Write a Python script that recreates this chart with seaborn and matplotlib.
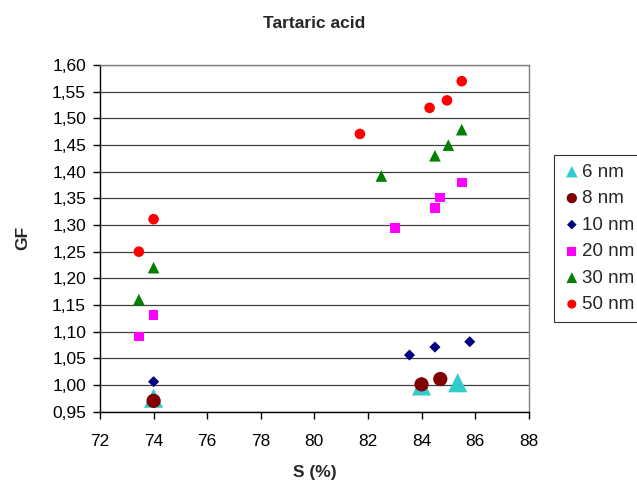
"""
plot.py
-------
Tartaric acid: GF vs S (%) for six particle sizes.
Output: out.png (637 x 483)
"""

import matplotlib
matplotlib.use("Agg")
import matplotlib.pyplot as plt
from matplotlib.ticker import FuncFormatter
import pandas as pd
import seaborn as sns

# ── Data ─────────────────────────────────────────────────────────────────────
s_6nm = [74.0, 84.0, 85.35]
gf_6nm = [0.975, 0.998, 1.004]

s_8nm = [74.0, 84.0, 84.7]
gf_8nm = [0.970, 1.001, 1.011]

s_10nm = [74.0, 83.55, 84.5, 85.8]
gf_10nm = [1.006, 1.056, 1.071, 1.081]

s_20nm = [73.45, 74.0, 83.0, 84.5, 84.7, 85.5]
gf_20nm = [1.091, 1.131, 1.295, 1.332, 1.352, 1.380]

s_30nm = [73.45, 74.0, 82.5, 84.5, 85.0, 85.5]
gf_30nm = [1.160, 1.220, 1.392, 1.430, 1.450, 1.479]

s_50nm = [73.45, 74.0, 81.7, 84.3, 84.95, 85.5]
gf_50nm = [1.250, 1.311, 1.471, 1.520, 1.534, 1.570]

series = ["6 nm", "8 nm", "10 nm", "20 nm", "30 nm", "50 nm"]
s_values = [s_6nm, s_8nm, s_10nm, s_20nm, s_30nm, s_50nm]
gf_values = [gf_6nm, gf_8nm, gf_10nm, gf_20nm, gf_30nm, gf_50nm]

# ── Styles ───────────────────────────────────────────────────────────────────
COLORS = {"6 nm": "#33CCCC", "8 nm": "#800000", "10 nm": "#000080",
          "20 nm": "#FF00FF", "30 nm": "#008000", "50 nm": "#FF0000"}
MARKERS = {"6 nm": "^", "8 nm": "o", "10 nm": "D",
           "20 nm": "s", "30 nm": "^", "50 nm": "o"}
SIZES = {"6 nm": 190, "8 nm": 105, "10 nm": 32,
         "20 nm": 48, "30 nm": 70, "50 nm": 58}
LEGEND_SIZES = {"6 nm": 70, "8 nm": 55, "10 nm": 24,
                "20 nm": 42, "30 nm": 60, "50 nm": 42}

sns.set_theme(style="white")
plt.rcParams["font.family"] = ["Liberation Sans", "DejaVu Sans"]

df = pd.concat(
    [pd.DataFrame({"S": s, "GF": g, "size": name})
     for name, s, g in zip(series, s_values, gf_values)],
    ignore_index=True,
)

fig = plt.figure(figsize=(6.37, 4.83), dpi=100)
ax = fig.add_axes([0.157, 0.148, 0.673, 0.717])

for name in series:
    sub = df[df["size"] == name]
    sns.scatterplot(data=sub, x="S", y="GF", ax=ax,
                    color=COLORS[name], marker=MARKERS[name],
                    s=SIZES[name], edgecolor="none", linewidth=0,
                    label=name, zorder=3)

ax.set_xlim(72, 88)
ax.set_ylim(0.95, 1.60)
ax.set_xticks(range(72, 89, 2))
ax.set_yticks([0.95 + 0.05 * i for i in range(14)])
ax.yaxis.set_major_formatter(FuncFormatter(lambda v, _: f"{v:.2f}".replace(".", ",")))

ax.grid(True, axis="y", color="#404040", linewidth=0.9)
ax.grid(False, axis="x")
ax.set_axisbelow(True)

for side in ["top", "right"]:
    ax.spines[side].set_color("#808080")
    ax.spines[side].set_linewidth(1.0)
for side in ["left", "bottom"]:
    ax.spines[side].set_color("black")
    ax.spines[side].set_linewidth(1.0)

ax.tick_params(axis="both", direction="out", length=5, width=1,
               color="black", labelsize=12.5, labelcolor="black",
               left=True, bottom=True)
ax.tick_params(axis="x", pad=11)
ax.tick_params(axis="y", pad=5)

ax.set_xlabel("S (%)", fontsize=12.5, fontweight="bold", labelpad=12)
ax.set_ylabel("GF", fontsize=12.5, fontweight="bold", labelpad=16)
ax.set_title("Tartaric acid", fontsize=12.5, fontweight="bold", pad=27)

leg = ax.legend(loc="upper left", bbox_to_anchor=(554 / 637, 1 - 155 / 483),
                bbox_transform=fig.transFigure, frameon=True, fontsize=13.5,
                handletextpad=0.05, handlelength=1.0, labelspacing=0.5,
                borderpad=0.45, fancybox=False, borderaxespad=0)
leg.get_frame().set_edgecolor("black")
leg.get_frame().set_linewidth(0.8)
for h, name in zip(leg.legend_handles, series):
    h.set_sizes([LEGEND_SIZES[name]])

fig.savefig("out.png", dpi=100, facecolor="white")
